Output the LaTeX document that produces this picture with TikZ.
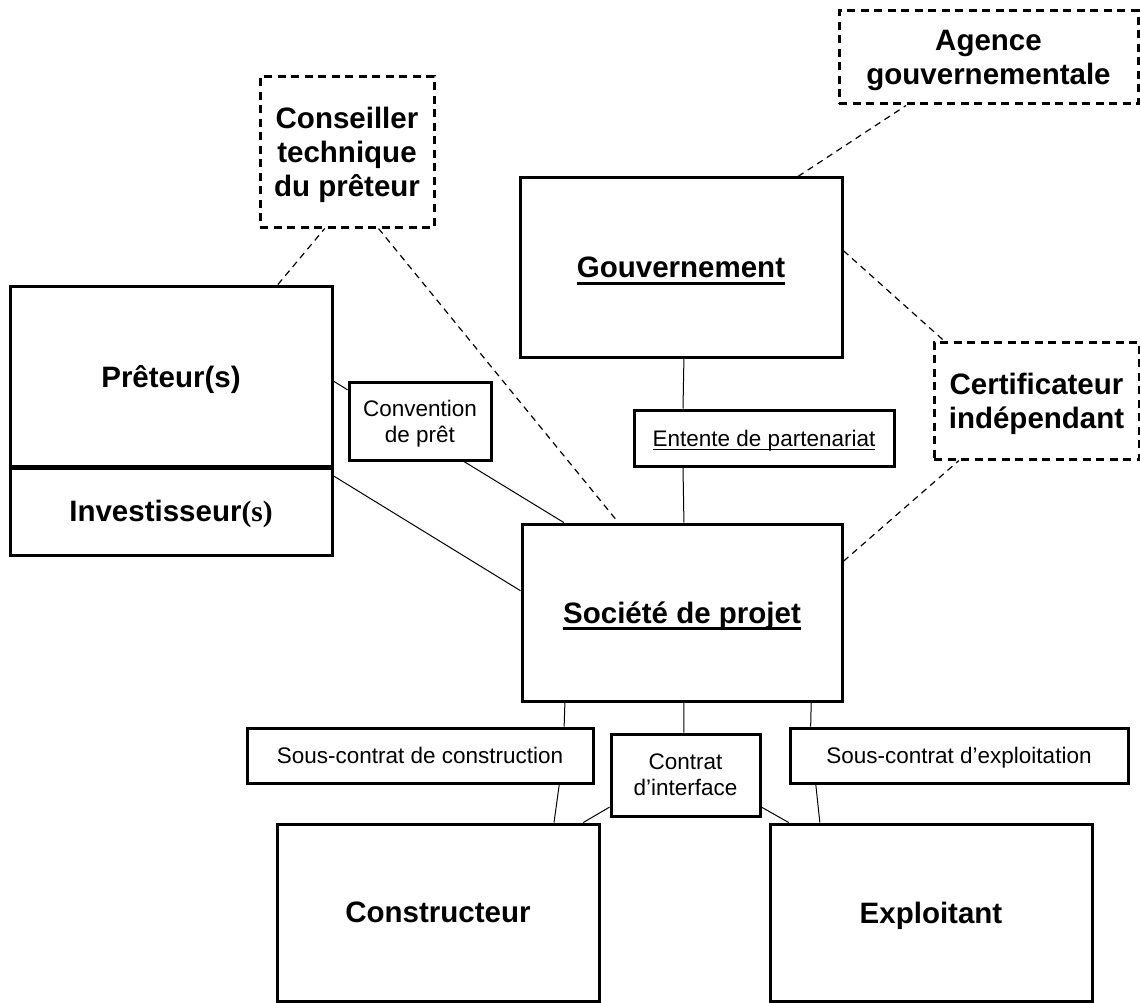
\documentclass[tikz,border=0pt]{standalone}
\usepackage{fontspec}
\setmainfont{Liberation Sans}
\newfontfamily\serifbold{Liberation Serif}
\usetikzlibrary{calc}

% underline with a given rule thickness, ignoring descenders
\newcommand{\undl}[3]{\leavevmode\setbox0=\hbox{#3}\dp0=0pt\vtop{\copy0\kern#1\hrule height #2}}

\begin{document}
\begin{tikzpicture}[x=1pt, y=-1pt,
    box/.style={draw, line width=3pt, inner sep=0pt, align=center, text depth=0pt},
    dbox/.style={box, dash pattern=on 8pt off 5.5pt},
    titletext/.style={font=\fontsize{29.5}{34}\selectfont\bfseries},
    labeltext/.style={font=\fontsize{22.5}{26}\selectfont},
    link/.style={line width=1pt},
    dlink/.style={line width=1.2pt, dash pattern=on 6.5pt off 5pt}]
    \useasboundingbox (0,0) rectangle (1140,1003);
    % ===== OUTSIDE PARTIES (dashed) =====
    \node[dbox, titletext, minimum width=174pt, minimum height=150pt] (conseil) at (347,152) {Conseiller\\technique\\du prêteur};
    \node[dbox, titletext, minimum width=299pt, minimum height=93pt] (agence) at (988.5,57.5) {Agence\\gouvernementale};
    \node[dbox, titletext, minimum width=205pt, minimum height=117pt] (certif) at (1036.5,400.5) {Certificateur\\indépendant};
    % ===== MAIN PARTIES =====
    \node[box, titletext, minimum width=322pt, minimum height=179pt] (gouv) at (681,267.5) {\undl{4pt}{3pt}{Gouvernement}};
    \node[box, titletext, minimum width=322pt, minimum height=180pt] (preteur) at (171,376) {Prêteur(s)};
    \node[box, titletext, minimum width=322pt, minimum height=89pt] (invest) at (171,510.5) {Investisseur{\serifbold(s)}};
    \draw[line width=4.5pt] (preteur.south west) -- (preteur.south east);
    \node[box, titletext, minimum width=320pt, minimum height=177pt] (societe) at (682,612.5) {\undl{4pt}{3pt}{Société de projet}};
    \node[box, titletext, minimum width=322pt, minimum height=177pt] (constr) at (438,912.5) {Constructeur};
    \node[box, titletext, minimum width=322pt, minimum height=177pt] (exploit) at (931,912.5) {Exploitant};
    % ===== CONTRACTS =====
    \node[box, labeltext, minimum width=260pt, minimum height=56pt] (entente) at (764,438) {\undl{2.5pt}{1.4pt}{Entente de partenariat}};
    \node[box, labeltext, minimum width=142pt, minimum height=78pt] (convention) at (420,421) {Convention\\de prêt};
    \node[box, labeltext, minimum width=346pt, minimum height=55pt] (souscons) at (420,755.5) {Sous-contrat de construction};
    \node[box, labeltext, minimum width=149pt, minimum height=82pt] (interface) at (685.5,775) {Contrat\\d’interface};
    \node[box, labeltext, minimum width=338pt, minimum height=55pt] (sousexpl) at (959,755.5) {Sous-contrat d’exploitation};
    % ===== Dashed links =====
    \draw[dlink] ($(preteur.north west)!.829!(preteur.north east)$) -- ($(conseil.south west)!.374!(conseil.south east)$);
    \draw[dlink] ($(conseil.south west)!.678!(conseil.south east)$) -- ($(societe.north west)!.303!(societe.north east)$);
    \draw[dlink] ($(gouv.north west)!.86!(gouv.north east)$) -- ($(agence.south west)!.227!(agence.south east)$);
    \draw[dlink] ($(gouv.north east)!.408!(gouv.south east)$) -- ($(certif.north west)!.054!(certif.north east)$);
    \draw[dlink] ($(societe.north east)!.215!(societe.south east)$) -- ($(certif.south west)!.127!(certif.south east)$);
    % ===== Contract links =====
    \draw[link] ($(gouv.south west)!.509!(gouv.south east)$) -- ($(entente.north west)!.192!(entente.north east)$);
    \draw[link] ($(entente.south west)!.192!(entente.south east)$) -- ($(societe.north west)!.506!(societe.north east)$);
    \draw[link] ($(preteur.north east)!.528!(preteur.south east)$) -- ($(convention.north west)!.115!(convention.south west)$);
    \draw[link] ($(convention.south west)!.803!(convention.south east)$) -- ($(societe.north west)!.134!(societe.north east)$);
    \draw[link] ($(invest.north east)!.124!(invest.south east)$) -- ($(societe.north west)!.379!(societe.south west)$);
    \draw[link] ($(societe.south west)!.1375!(societe.south east)$) -- ($(souscons.north west)!.913!(souscons.north east)$);
    \draw[link] ($(souscons.south west)!.899!(souscons.south east)$) -- ($(constr.north west)!.857!(constr.north east)$);
    \draw[link] ($(societe.south west)!.506!(societe.south east)$) -- ($(interface.north west)!.49!(interface.north east)$);
    \draw[link] ($(interface.north west)!.878!(interface.south west)$) -- ($(constr.north west)!.947!(constr.north east)$);
    \draw[link] ($(interface.north east)!.878!(interface.south east)$) -- ($(exploit.north west)!.062!(exploit.north east)$);
    \draw[link] ($(societe.south west)!.9!(societe.south east)$) -- ($(sousexpl.north west)!.065!(sousexpl.north east)$);
    \draw[link] ($(sousexpl.south west)!.08!(sousexpl.south east)$) -- ($(exploit.north west)!.158!(exploit.north east)$);
\end{tikzpicture}
\end{document}
